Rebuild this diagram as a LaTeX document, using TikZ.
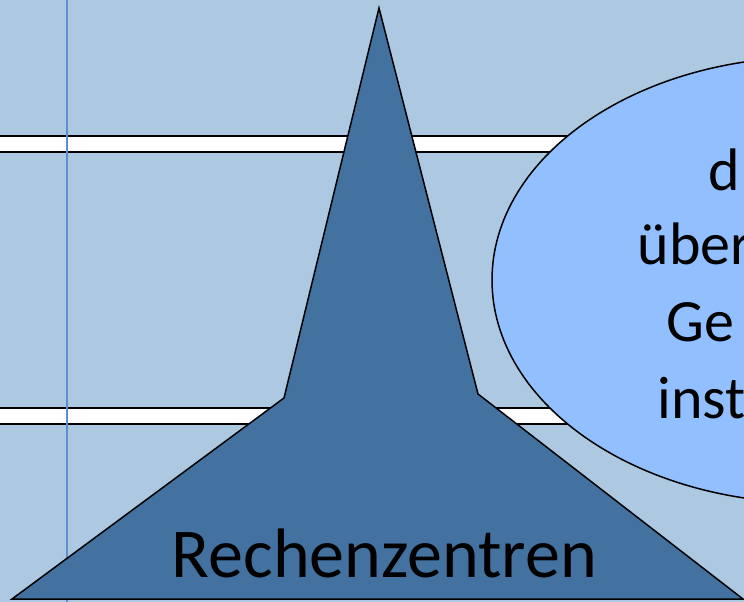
\documentclass[tikz,border=0pt]{standalone}
\usepackage{fontspec}
\setmainfont{Carlito}
\definecolor{skyback}{RGB}{173,200,225}
\definecolor{towerblue}{RGB}{68,114,160}
\definecolor{cloudblue}{RGB}{145,191,255}
\definecolor{guideblue}{RGB}{91,146,206}
\begin{document}
\begin{tikzpicture}[x=1pt,y=-1pt,line width=1.5pt,
  rail/.style={draw=black,fill=white},
  bigtext/.style={inner sep=0pt,anchor=base west,font=\fontsize{70}{80}\selectfont},
  cloudtext/.style={inner sep=0pt,anchor=base west,font=\fontsize{60}{68}\selectfont}]
% ---------- page frame and background ----------
\useasboundingbox (0,0) rectangle (744,602);
\clip (0,0) rectangle (744,602);
\fill[skyback] (0,0) rectangle (744,602);
% ---------- two white rails across the page ----------
\foreach \ry in {136,408}{%
  \draw[rail] (-5,\ry) rectangle (760,{\ry+16});
}
% ---------- thin vertical guide ----------
\draw[guideblue,line width=2pt] (67,-5) -- (67,610);
% ---------- tower of the data centres ----------
\draw[fill=towerblue,line join=miter] (379,8) -- (478,394) -- (743,599)
  -- (12,599) -- (284,398) -- cycle;
\node[bigtext] (rz) at (171,577) {Rechenzentren};
% ---------- ellipse on the right, cut by the page edge ----------
\draw[fill=cloudblue] (812,280) ellipse [x radius=320pt, y radius=223pt];
\node[cloudtext] (cl1) at (708,190) {d};
\node[cloudtext] (cl2) at (637,264) {über};
\node[cloudtext] (cl3) at (666,341) {Ge};
\node[cloudtext] (cl4) at (657,418) {inst};
\end{tikzpicture}
\end{document}
